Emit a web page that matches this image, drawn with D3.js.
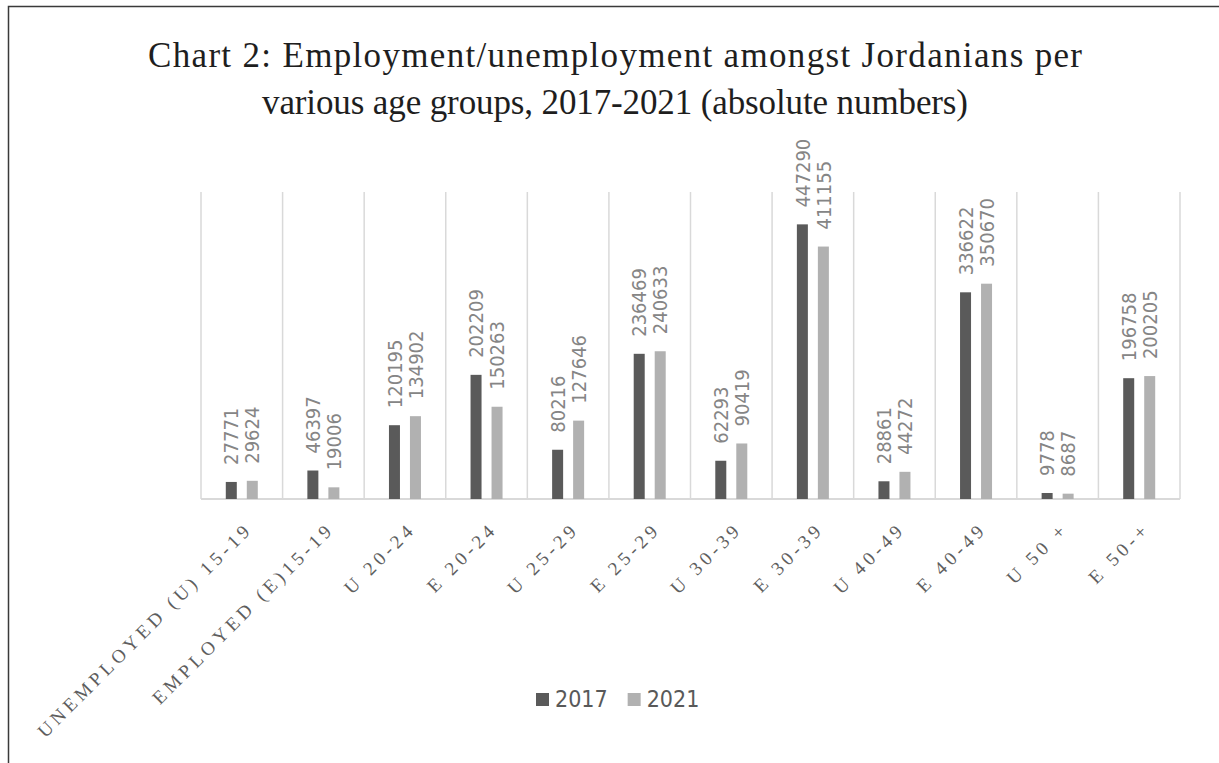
<!DOCTYPE html>
<html><head><meta charset="utf-8">
<script src="https://cdn.jsdelivr.net/npm/d3@7"></script>
<style>body{margin:0;background:#fff}svg{display:block}</style>
</head><body>
<script>
const categories = ["UNEMPLOYED (U) 15-19","EMPLOYED (E)15-19","U 20-24","E 20-24","U 25-29","E 25-29","U 30-39","E 30-39","U 40-49","E 40-49","U 50 +","E 50-+"];
const series = ["2017","2021"];
const values2017 = [27771,46397,120195,202209,80216,236469,62293,447290,28861,336622,9778,196758];
const values2021 = [29624,19006,134902,150263,127646,240633,90419,411155,44272,350670,8687,200205];
const titleLines = ["Chart 2: Employment/unemployment amongst Jordanians per","various age groups, 2017-2021 (absolute numbers)"];
const colors = {"2017":"#5a5a5a","2021":"#b1b1b1"};

(function(){
const W=1219,H=763;
const svg=d3.select("body").append("svg").attr("width",W).attr("height",H);

// frame
svg.append("path").attr("d","M8.5,763V6.5H1219").attr("fill","none").attr("stroke","#3a3a3a").attr("stroke-width",1.5);

const pLeft=201,pRight=1180,pTop=192,base=499;
const x=d3.scaleBand().domain(categories).range([pLeft,pRight]).padding(0);
const xi=d3.scaleBand().domain(series).range([-16,16]).paddingInner(10/21).paddingOuter(0);
const y=d3.scaleLinear().domain([0,500000]).range([base,pTop]);

// gridlines (category boundaries)
const bounds=categories.map(c=>x(c)).concat([pRight]);
svg.append("g").selectAll("line").data(bounds).join("line")
  .attr("x1",d=>d).attr("x2",d=>d).attr("y1",pTop).attr("y2",base)
  .attr("stroke","#d9d9d9").attr("stroke-width",1.5);
svg.append("line").attr("x1",pLeft).attr("x2",pRight).attr("y1",base).attr("y2",base)
  .attr("stroke","#d9d9d9").attr("stroke-width",2);

const data=[];
categories.forEach((c,i)=>{
  data.push({c,s:"2017",v:values2017[i]});
  data.push({c,s:"2021",v:values2021[i]});
});
const cx=d=>x(d.c)+x.bandwidth()/2+xi(d.s);
svg.append("g").selectAll("rect").data(data).join("rect")
  .attr("x",cx).attr("width",xi.bandwidth())
  .attr("y",d=>y(d.v)).attr("height",d=>base-y(d.v))
  .attr("fill",d=>colors[d.s]);

svg.append("g").selectAll("text").data(data).join("text")
  .attr("transform",d=>`translate(${cx(d)+xi.bandwidth()/2},${y(d.v)-17}) rotate(-90)`)
  .attr("dy","0.36em")
  .attr("font-family","DejaVu Sans Condensed, DejaVu Sans")
  .attr("font-size",20).attr("fill","#858585")
  .text(d=>d.v);

// category labels
svg.append("g").selectAll("text").data(categories).join("text")
  .attr("transform",c=>`translate(${x(c)+x.bandwidth()/2+12},${base+31}) rotate(-45)`)
  .attr("text-anchor","end")
  .attr("font-family","Liberation Serif")
  .attr("font-size",19).attr("letter-spacing","4.2px").attr("fill","#5e5e5e")
  .text(c=>c);

// title
const tw=[934,706], tb=[67,114];
svg.append("g").selectAll("text").data(titleLines).join("text")
  .attr("x",615).attr("y",(d,i)=>tb[i]).attr("text-anchor","middle")
  .attr("font-family","Liberation Serif").attr("font-size",35).attr("fill","#1e1e1e")
  .attr("textLength",(d,i)=>tw[i]).attr("lengthAdjust","spacing")
  .text(d=>d);

// legend
const lg=svg.append("g").attr("transform","translate(536,707)");
let lx=0;
series.forEach(s=>{
  lg.append("rect").attr("x",lx).attr("y",-14).attr("width",13).attr("height",13).attr("fill",colors[s]);
  const t=lg.append("text").attr("x",lx+19).attr("y",0)
    .attr("font-family","DejaVu Sans Condensed, DejaVu Sans").attr("font-size",23).attr("fill","#595959").text(s);
  lx+=19+t.node().getComputedTextLength()+20;
});
})();
</script>
</body></html>
